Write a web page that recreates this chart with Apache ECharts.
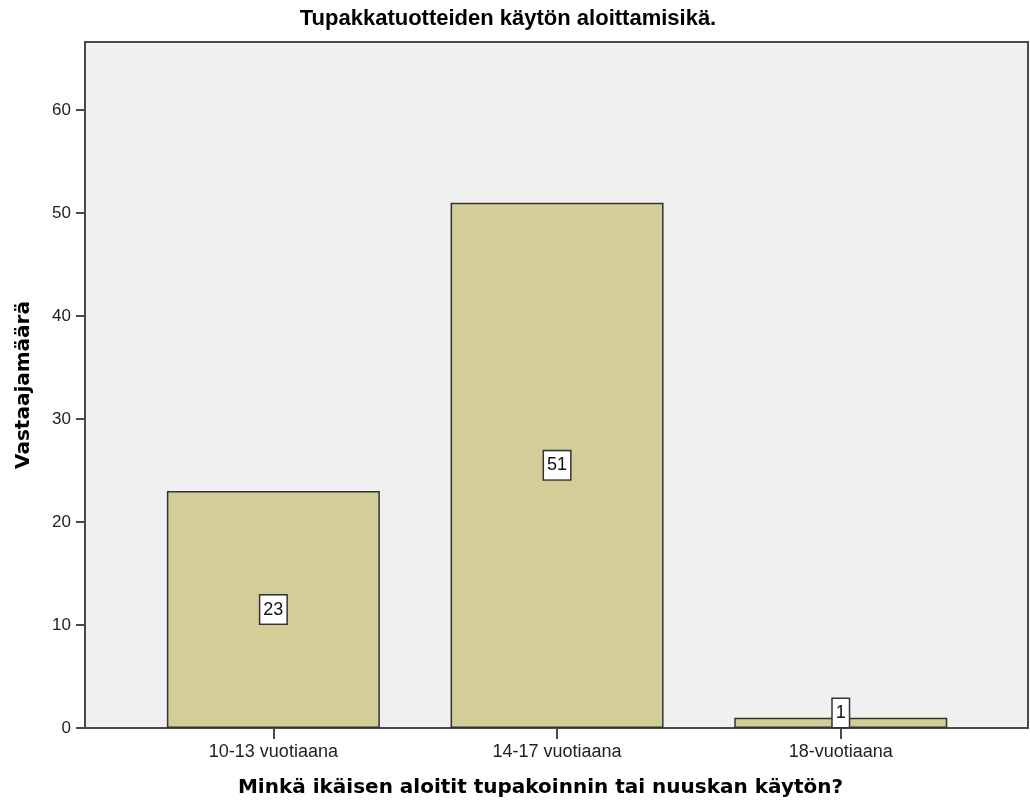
<!DOCTYPE html>
<html>
<head>
<meta charset="utf-8">
<script src="https://cdn.jsdelivr.net/npm/echarts@6/dist/echarts.min.js"></script>
<style>
  html, body { margin: 0; padding: 0; background: #ffffff; }
  #chart { width: 1030px; height: 802px; }
</style>
</head>
<body>
<div id="chart"></div>
<script>
// Age at which tobacco / snus use started
const categories = ['10-13 vuotiaana', '14-17 vuotiaana', '18-vuotiaana'];
const counts = [23, 51, 1];
const yTicks = [0, 10, 20, 30, 40, 50, 60];

const titleText = 'Tupakkatuotteiden käytön aloittamisikä.';
const xName = 'Minkä ikäisen aloitit tupakoinnin tai nuuskan käytön?';
const yName = 'Vastaajamäärä';

const frameColor = '#4a4a4a';
const barFill = '#d3ce97';

// Bars sit on a numeric x scale (category index) so the frame can keep
// the wide margins on both sides of the outer bars.
const barData = counts.map(function (v, i) {
  const item = { value: [i, v] };
  if (v < 5) {
    item.label = { position: 'insideBottom', distance: 1 };
  }
  return item;
});

const chart = echarts.init(document.getElementById('chart'), null, { renderer: 'canvas' });

chart.setOption({
  animation: false,
  backgroundColor: '#ffffff',
  title: {
    text: titleText,
    left: 508,
    top: 8,
    padding: 0,
    textAlign: 'center',
    textStyle: {
      fontFamily: 'Liberation Sans, Arial, sans-serif',
      fontWeight: 'bold',
      fontSize: 22,
      color: '#000'
    }
  },
  grid: {
    left: 85,
    right: 2,
    top: 42,
    bottom: 74,
    outerBoundsMode: 'none',
    containLabel: false,
    show: true,
    backgroundColor: '#f0f0f0',
    borderColor: frameColor,
    borderWidth: 2
  },
  xAxis: {
    type: 'value',
    min: -0.664,
    max: 2.66,
    splitLine: { show: false },
    axisLine: { show: true, onZero: false, lineStyle: { color: frameColor, width: 2 } },
    axisTick: {
      show: true,
      length: 11,
      customValues: categories.map(function (c, i) { return i; }),
      lineStyle: { color: frameColor, width: 2 }
    },
    axisLabel: {
      customValues: categories.map(function (c, i) { return i; }),
      formatter: function (v) { return categories[Math.round(v)]; },
      margin: 15,
      fontFamily: 'Liberation Sans, Arial, sans-serif',
      fontSize: 18,
      color: '#222'
    },
    name: xName,
    nameLocation: 'middle',
    nameGap: 50,
    nameTextStyle: {
      fontFamily: 'DejaVu Sans, Verdana, sans-serif',
      fontWeight: 'bold',
      fontSize: 20,
      color: '#000',
      padding: [0, 32, 0, 0]
    }
  },
  yAxis: {
    type: 'value',
    min: 0,
    max: 66.6,
    interval: 10,
    splitLine: { show: false },
    axisLine: { show: true, onZero: false, lineStyle: { color: frameColor, width: 2 } },
    axisTick: {
      show: true,
      length: 9,
      customValues: yTicks,
      lineStyle: { color: frameColor, width: 2 }
    },
    axisLabel: {
      customValues: yTicks,
      margin: 14,
      fontFamily: 'Liberation Sans, Arial, sans-serif',
      fontSize: 17,
      color: '#222'
    },
    name: yName,
    nameLocation: 'middle',
    nameGap: 51,
    nameTextStyle: {
      fontFamily: 'DejaVu Sans, Verdana, sans-serif',
      fontWeight: 'bold',
      fontSize: 20,
      color: '#000'
    }
  },
  series: [{
    type: 'bar',
    data: barData,
    barWidth: 213,
    itemStyle: {
      color: barFill,
      borderColor: '#333',
      borderWidth: 1.5
    },
    label: {
      show: true,
      position: 'inside',
      fontFamily: 'Liberation Sans, Arial, sans-serif',
      fontSize: 18,
      color: '#111',
      backgroundColor: '#ffffff',
      borderColor: '#333',
      borderWidth: 1.5,
      padding: [5, 3, 5, 3],
      formatter: function (p) { return p.value[1]; }
    }
  }]
});
</script>
</body>
</html>
